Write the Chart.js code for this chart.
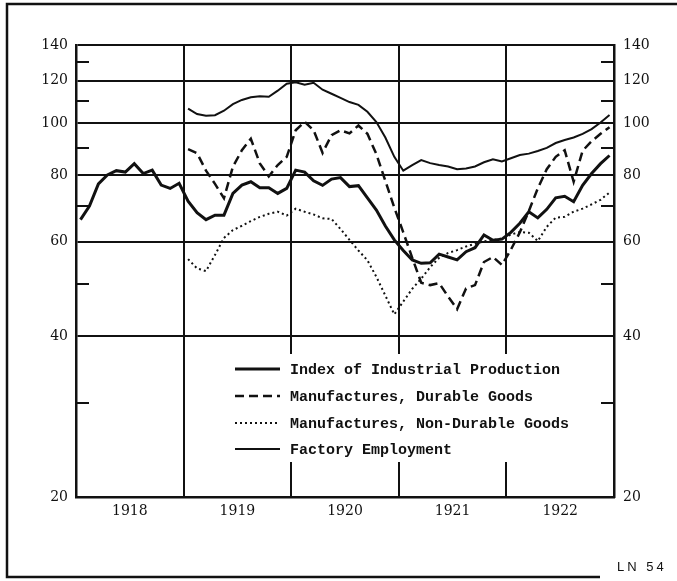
<!DOCTYPE html>
<html>
<head>
<meta charset="utf-8">
<script src="https://cdn.jsdelivr.net/npm/chart.js@4.4.1/dist/chart.umd.min.js"></script>
<style>
  html, body { margin: 0; padding: 0; background: #fff; }
  canvas { display: block; }
</style>
</head>
<body>
<canvas id="grafico" width="677" height="581"></canvas>
<script>
// Etiquetas de los ejes
const anios = ['1918', '1919', '1920', '1921', '1922'];
const ticksY = [20, 40, 60, 80, 100, 120, 140];
const ticksMenores = [30, 50, 70, 90, 110, 130];

// Series mensuales (lectura del grafico)
const produccion = [ // enero 1918 - diciembre 1922
    66, 70, 77, 80, 81.5, 81, 84, 80.5, 81.7, 76.6, 75.5, 77.2,
    71.5, 68, 66, 67.3, 67.3, 73.9, 76.6, 77.7, 75.7, 75.7, 73.9, 75.5,
    81.7, 81, 78, 76.5, 78.6, 79.1, 76.1, 76.4, 72.5, 68.8, 64.2, 60.5,
    57.8, 55.5, 54.7, 54.8, 56.9, 56.2, 55.5, 57.5, 58.5, 61.8, 60.4, 60.7,
    62.5, 65, 68.3, 66.5, 69, 72.5, 73, 71.3, 76.5, 80.5, 84, 87
];
const duraderos = [ // enero 1919 - diciembre 1922
    89.4, 87.9, 81.5, 77, 72.4, 82.9, 89, 93.5, 84.1, 79.5, 83.5, 86.5,
    97, 100.6, 97, 88, 95, 97, 95.7, 99, 95.5, 87.5, 78, 69.5,
    62.5, 56, 50.3, 49.8, 50.2, 47.4, 44.9, 49.1, 49.8, 55, 56.2, 54.3,
    58, 62.5, 68.5, 75.5, 82, 86.5, 89, 77.7, 88.8, 92.5, 95.5, 98.3
];
const noDuraderos = [ // enero 1919 - diciembre 1922
    55.7, 53.5, 52.9, 56.7, 61, 63.1, 64.3, 65.6, 66.8, 67.7, 68.3, 67.2,
    69.2, 68.3, 67.5, 66.4, 66.2, 63.4, 60.5, 57.8, 55.4, 51.6, 47.6, 43.9,
    46.4, 49, 51.2, 53.8, 56, 57.2, 57.9, 58.8, 59.5, 60.1, 60.4, 60.9,
    61.9, 62.6, 62.4, 60.2, 64, 66.6, 66.8, 68.3, 69.2, 70.5, 71.9, 74.2
];
const empleo = [ // enero 1919 - diciembre 1922
    106.5, 104, 103.2, 103.5, 105.5, 108.5, 110.5, 111.8, 112.3, 112, 115, 118.5,
    119.3, 118, 119, 115.5, 113.5, 111.5, 109.5, 108.2, 105, 100.5, 94, 86.5,
    81.5, 83.5, 85.3, 84.2, 83.5, 83, 82, 82.3, 83, 84.5, 85.6, 84.8,
    86, 87.2, 87.7, 88.7, 89.9, 91.8, 93, 94, 95.5, 97.5, 100.3, 103.6
];

const tinta = '#111';

// Convierte una serie mensual en puntos {x, y} (mitad de cada mes)
const puntos = (valores, anioInicio) => valores.map((v, i) => ({ x: anioInicio + (i + 0.5) / 12, y: v }));

// Marcas cortas de los valores intermedios (30, 50, ...), por dentro del area
const marcasMenores = {
    id: 'marcasMenores',
    beforeDatasetsDraw(chart) {
        const { ctx, chartArea, scales } = chart;
        ctx.save();
        ctx.strokeStyle = tinta;
        ctx.lineWidth = 2;
        ticksMenores.forEach(v => {
            const py = Math.round(scales.y.getPixelForValue(v));
            ctx.beginPath();
            ctx.moveTo(chartArea.left, py);
            ctx.lineTo(chartArea.left + 13, py);
            ctx.moveTo(chartArea.right - 13, py);
            ctx.lineTo(chartArea.right, py);
            ctx.stroke();
        });
        ctx.restore();
    }
};

// Leyenda dentro del grafico con fondo blanco
const leyenda = {
    id: 'leyenda',
    afterDatasetsDraw(chart) {
        const { ctx } = chart;
        ctx.save();
        ctx.fillStyle = '#fff';
        ctx.fillRect(226, 354, 364, 108);
        const filas = [369, 396, 423, 449];
        ctx.font = 'bold 15px "Liberation Mono", "DejaVu Sans Mono", monospace';
        ctx.textBaseline = 'middle';
        chart.data.datasets.forEach((ds, i) => {
            const y = filas[i];
            ctx.strokeStyle = tinta;
            ctx.lineWidth = ds.borderWidth;
            ctx.setLineDash(ds.borderDash || []);
            ctx.beginPath();
            ctx.moveTo(235, y);
            ctx.lineTo(280, y);
            ctx.stroke();
            ctx.setLineDash([]);
            ctx.fillStyle = tinta;
            ctx.fillText(ds.label, 290, y + 1);
        });
        ctx.restore();
    }
};

// Marco exterior y rotulo
const marco = {
    id: 'marco',
    afterDraw(chart) {
        const { ctx } = chart;
        ctx.save();
        ctx.strokeStyle = tinta;
        ctx.lineWidth = 2.5;
        ctx.beginPath();
        ctx.moveTo(677, 4);
        ctx.lineTo(7, 4);
        ctx.lineTo(7, 577);
        ctx.lineTo(600, 577);
        ctx.stroke();
        ctx.fillStyle = tinta;
        ctx.font = '13px "Liberation Sans", Arial, sans-serif';
        ctx.textBaseline = 'middle';
        ctx.letterSpacing = '3px';
        ctx.fillText('LN 54', 617, 567);
        ctx.restore();
    }
};

const fuenteEje = { family: '"DejaVu Serif", "Liberation Serif", serif', size: 14 };

new Chart(document.getElementById('grafico').getContext('2d'), {
    type: 'line',
    data: {
        datasets: [
            { label: 'Index of Industrial Production', data: puntos(produccion, 1918), borderColor: tinta, borderWidth: 3 },
            { label: 'Manufactures, Durable Goods', data: puntos(duraderos, 1919), borderColor: tinta, borderWidth: 2.5, borderDash: [9, 5] },
            { label: 'Manufactures, Non-Durable Goods', data: puntos(noDuraderos, 1919), borderColor: tinta, borderWidth: 2, borderDash: [2, 3] },
            { label: 'Factory Employment', data: puntos(empleo, 1919), borderColor: tinta, borderWidth: 2 }
        ]
    },
    options: {
        responsive: false,
        animation: false,
        layout: { padding: { top: 45, bottom: 44, left: 0, right: 0 } },
        elements: { point: { radius: 0 }, line: { tension: 0, fill: false } },
        plugins: {
            legend: { display: false },
            tooltip: { enabled: false }
        },
        scales: {
            x: {
                type: 'linear', position: 'bottom', min: 1918, max: 1923, weight: 0,
                afterBuildTicks: axis => { axis.ticks = [1918, 1919, 1920, 1921, 1922, 1923].map(v => ({ value: v })); },
                afterFit: axis => { axis.height = 0; },
                ticks: { display: false },
                grid: { color: tinta, lineWidth: 2, drawTicks: false },
                border: { color: tinta, width: 2.5 }
            },
            anios: {
                type: 'linear', position: 'bottom', min: 1918, max: 1923, weight: 1,
                afterBuildTicks: axis => { axis.ticks = anios.map((a, i) => ({ value: 1918.5 + i })); },
                afterFit: axis => { axis.height = 40; },
                ticks: {
                    color: tinta, font: fuenteEje, padding: 6, maxRotation: 0, autoSkip: false,
                    callback: (v, i) => anios[i]
                },
                grid: { display: false, drawTicks: false },
                border: { display: false }
            },
            y: {
                type: 'logarithmic', position: 'left', min: 20, max: 140,
                afterBuildTicks: axis => { axis.ticks = ticksY.map(v => ({ value: v })); },
                afterFit: axis => { axis.width = 76; },
                ticks: { color: tinta, font: fuenteEje, padding: 8, callback: v => String(v) },
                grid: { color: tinta, lineWidth: 2, drawTicks: false },
                border: { color: tinta, width: 2.5 }
            },
            y2: {
                type: 'logarithmic', position: 'right', min: 20, max: 140,
                afterBuildTicks: axis => { axis.ticks = ticksY.map(v => ({ value: v })); },
                afterFit: axis => { axis.width = 63; },
                ticks: { color: tinta, font: fuenteEje, padding: 9, callback: v => String(v) },
                grid: { drawOnChartArea: false, drawTicks: false },
                border: { color: tinta, width: 2.5 }
            }
        }
    },
    plugins: [marcasMenores, leyenda, marco]
});
</script>
</body>
</html>
